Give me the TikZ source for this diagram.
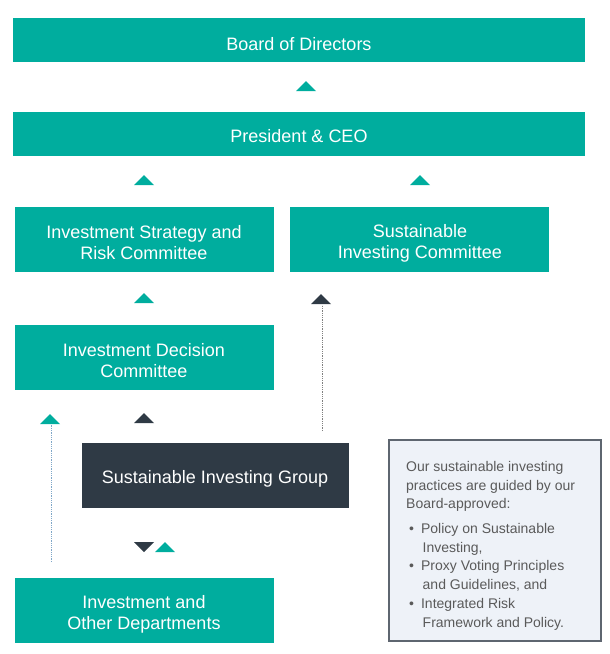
\documentclass[tikz,border=0pt]{standalone}
\usepackage{fontspec}
\setmainfont{Liberation Sans}
\definecolor{teal}{HTML}{00AD9E}
\definecolor{darkbox}{HTML}{2F3A45}
\definecolor{infofill}{HTML}{EEF2F8}
\definecolor{infoborder}{HTML}{5E6670}
\definecolor{infotext}{HTML}{5A5A5A}
\definecolor{dotline}{HTML}{7FA7C8}
\begin{document}
\begin{tikzpicture}[x=1pt,y=-1pt,
  tbox/.style={fill=teal,text=white,font=\fontsize{18}{21}\selectfont,align=center,inner sep=0pt},
  dbox/.style={fill=darkbox,text=white,font=\fontsize{18}{21}\selectfont,align=center,inner sep=0pt},
  infofont/.style={anchor=north west,text=infotext,font=\fontsize{14}{18.8}\selectfont,align=left,inner sep=0pt},
  dotconn/.style={densely dotted,line width=0.8pt,draw=#1}]
\useasboundingbox (0,0) rectangle (610,654);
\newcommand\upmark[3]{\fill[#3] (#1-10,#2+5) -- (#1+10,#2+5) -- (#1,#2-5) -- cycle;}
\newcommand\downmark[3]{\fill[#3] (#1-10,#2-5) -- (#1+10,#2-5) -- (#1,#2+5) -- cycle;}
% boxes
\path[tbox] (13,18) rectangle (585,62);
\node[tbox,fill=none] (board) at (299,44) {Board of Directors};
\path[tbox] (13,112) rectangle (585,156);
\node[tbox,fill=none] (ceo) at (299,136) {President \& CEO};
\path[tbox] (15,207) rectangle (274,272);
\node[tbox,fill=none] (isrc) at (144,243) {Investment Strategy and\\Risk Committee};
\path[tbox] (290,207) rectangle (549,272);
\node[tbox,fill=none] (sic) at (420,243) {Sustainable\\Investing Committee};
\path[tbox] (15,325) rectangle (274,390);
\node[tbox,fill=none] (idc) at (144,361) {Investment Decision\\Committee};
\path[dbox] (82,443) rectangle (349,508);
\node[dbox,fill=none] (sig) at (215,479) {Sustainable Investing Group};
\path[tbox] (15,578) rectangle (274,643);
\node[tbox,fill=none] (iod) at (144,614) {Investment and\\Other Departments};
% info box
\path[fill=infofill,draw=infoborder,line width=1.2pt] (389,440) rectangle (601,641);
\node[infofont] (info) at (406,461)
{Our sustainable investing\\practices are guided by our\\Board-approved:};
\node[infofont] (list) at (409,523)
{\textbullet\hspace{7pt}Policy on Sustainable\\\hspace{13.5pt}Investing,\\\textbullet\hspace{7pt}Proxy Voting Principles\\\hspace{13.5pt}and Guidelines, and\\\textbullet\hspace{7pt}Integrated Risk\\\hspace{13.5pt}Framework and Policy.};
% arrow marks
\upmark{306}{86}{teal}
\upmark{144}{180}{teal}
\upmark{420}{180}{teal}
\upmark{144}{298}{teal}
\upmark{321}{299}{darkbox}
\upmark{50}{419}{teal}
\upmark{144}{418}{darkbox}
\downmark{144}{547}{darkbox}
\upmark{165}{547}{teal}
% dotted connectors
\coordinate (d1top) at (322,305);
\coordinate (d1bot) at (322,431);
\draw[dotconn=gray] (d1bot) -- (d1top);
\coordinate (d2top) at (51,425);
\coordinate (d2bot) at (51,562);
\draw[dotconn=dotline] (d2bot) -- (d2top);
\end{tikzpicture}
\end{document}
